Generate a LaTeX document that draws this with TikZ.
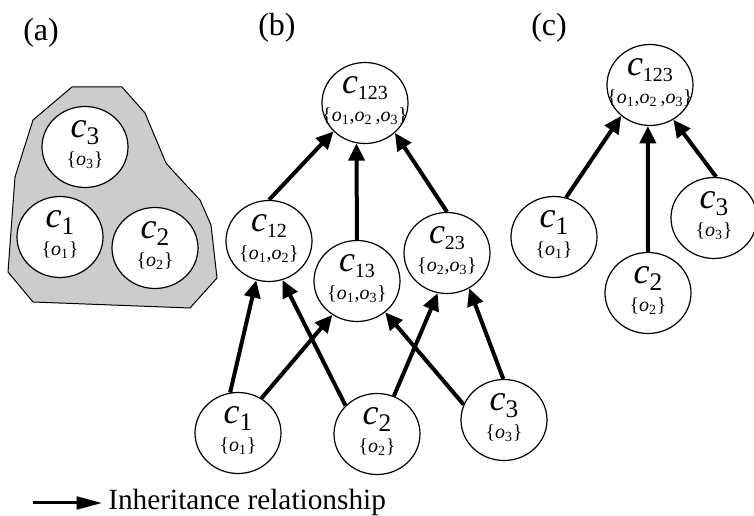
\documentclass[tikz,border=0pt]{standalone}
\usepackage{fontspec}
\setmainfont{Liberation Serif}
\newfontfamily\tmfont{Liberation Serif}
\usetikzlibrary{arrows.meta,shapes.geometric,calc}

\tikzset{
  cls/.style={ellipse, draw, line width=0.9pt, fill=white,
              minimum width=64.5pt, minimum height=60.75pt, inner sep=0pt},
  inh/.style={line width=3pt, -{Triangle[length=13pt,width=12pt]}},
  txt/.style={anchor=base, inner sep=0pt, font=\tmfont},
  panel/.style={anchor=base west, inner sep=0pt, font=\tmfont\fontsize{24}{24}\selectfont},
  region/.style={draw, line width=0.75pt, fill=gray!40},
}

% class symbol: italic c with a subscript (single digit / several digits)
\newcommand\cname[1]{{\fontsize{27}{27}\selectfont\itshape c}\raisebox{-5pt}{\fontsize{19}{19}\selectfont #1}}
\newcommand\cnamesm[1]{{\fontsize{27}{27}\selectfont\itshape c}\raisebox{-4pt}{\fontsize{15}{15}\selectfont #1}}
% object set and one object
\newcommand\objs[1]{{\fontsize{15}{15}\selectfont\{#1\}}}
\newcommand\ob[1]{\textit{o}\textsubscript{#1}}
% a class: ellipse with name line and object-set line
\newcommand\classnode[5]{%
  \node[cls] (#1) at (#2,#3) {};
  \node[txt] (#1-n) at ($(#1.center)+(0,-9)$) {#4};
  \node[txt] (#1-o) at ($(#1.center)+(0,19)$) {#5};}

\begin{document}
\begin{tikzpicture}[x=0.75pt,y=-0.75pt]
\useasboundingbox (0,0) rectangle (754,516);

% panel labels
\node[panel] (la) at (23,41) {(a)};
\node[panel] (lb) at (258,36) {(b)};
\node[panel] (lc) at (531,36) {(c)};

% (a) grouped classes
\draw[region] (72,87) -- (122,87) -- (145,113) -- (150,125) -- (166,163) -- (174,172)
  -- (200,200) -- (211,225) -- (217,278) -- (190,308) -- (33,302) -- (8,272)
  -- (15,177) -- (33,120) -- cycle;
\classnode{a3}{85}{147}{\cname{3}}{\objs{\ob3}}
\classnode{a1}{60}{237}{\cname{1}}{\objs{\ob1}}
\classnode{a2}{155}{248}{\cname{2}}{\objs{\ob2}}

% (b) full lattice
\classnode{b123}{365}{103}{\cnamesm{123}}{\objs{\ob1,\ob2\,,\ob3}}
\classnode{b12}{269}{241}{\cnamesm{12}}{\objs{\ob1,\ob2}}
\classnode{b13}{357}{281}{\cnamesm{13}}{\objs{\ob1,\ob3}}
\classnode{b23}{447}{253}{\cnamesm{23}}{\objs{\ob2,\ob3}}
\classnode{b1}{238}{433}{\cname{1}}{\objs{\ob1}}
\classnode{b2}{377}{434}{\cname{2}}{\objs{\ob2}}
\classnode{b3}{504}{420}{\cname{3}}{\objs{\ob3}}

\draw[inh] (b12.north) -- (b123.222);
\draw[inh] (b13.north) -- (b123.258);
\draw[inh] (b23.north) -- (b123.315);
\draw[inh] (b1.101) -- (b12.252);
\draw[inh] (b1.56) -- (b13.234);
\draw[inh] (b2.138) -- (b12.289);
\draw[inh] (b2.66) -- (b23.257);
\draw[inh] (b3.159) -- (b13.312);
\draw[inh] (b3.91) -- (b23.302);

% (c) flat hierarchy
\classnode{k123}{650}{85}{\cnamesm{123}}{\objs{\ob1,\ob2\,,\ob3}}
\classnode{k1}{554}{237}{\cname{1}}{\objs{\ob1}}
\classnode{k2}{648}{293}{\cname{2}}{\objs{\ob2}}
\classnode{k3}{714}{218}{\cname{3}}{\objs{\ob3}}

\draw[inh] (k1.73) -- (k123.227);
\draw[inh] (k2.north) -- (k123.267);
\draw[inh] (k3.87) -- (k123.304);

% legend
\coordinate (lg0) at (33,503);
\coordinate (lg1) at (102,503);
\draw[line width=2.25pt, -{Triangle[length=19pt,width=9.5pt]}] (lg0) -- (lg1);
\node[anchor=base west, inner sep=0pt, font=\tmfont\fontsize{22}{22}\selectfont] (lgt) at (108,510) {Inheritance relationship};
\end{tikzpicture}
\end{document}
